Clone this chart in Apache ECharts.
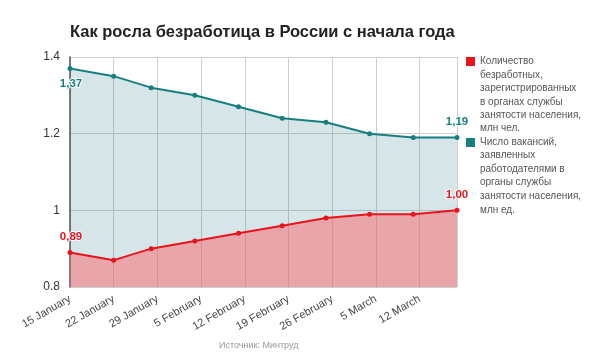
<!DOCTYPE html>
<html><head><meta charset="utf-8">
<script src="https://cdn.jsdelivr.net/npm/echarts@6/dist/echarts.min.js"></script>
<style>html,body{margin:0;padding:0;background:#fff}#c{width:600px;height:357px}</style>
</head><body><div id="c"></div>
<script>
var title = 'Как росла безработица в России с начала года';
var source = 'Источник: Минтруд';
var startDate = '2015-01-15';
var dates = ['2015-01-15','2015-01-22','2015-01-28','2015-02-04','2015-02-11','2015-02-18','2015-02-25','2015-03-04','2015-03-11','2015-03-18'];
var tickLabels = ['15 January','22 January','29 January','5 February','12 February','19 February','26 February','5 March','12 March'];
var unemployed = [0.89,0.87,0.90,0.92,0.94,0.96,0.98,0.99,0.99,1.00];
var vacancies = [1.37,1.35,1.32,1.30,1.27,1.24,1.23,1.20,1.19,1.19];
var yTicks = ['0.8','1','1.2','1.4'];
var legendNames = [
  'Количество\nбезработных,\nзарегистрированных\nв органах службы\nзанятости населения,\nмлн чел.',
  'Число вакансий,\nзаявленных\nработодателями в\nорганы службы\nзанятости населения,\nмлн ед.'
];

var DAY = 86400000;
var t0 = Date.parse(startDate);
function dayOf(s){ return Math.round((Date.parse(s) - t0) / DAY); }
var lastDay = dayOf(dates[dates.length-1]);
function fmt(v){ return v.toFixed(2).replace('.', ','); }
var TEAL = '#17807f', RED = '#e8141c';
function pts(vals, color){
  return vals.map(function(v,i){
    var item = {value:[dayOf(dates[i]), v]};
    if (i === 0 || i === vals.length-1) {
      item.label = {show:true, formatter: fmt(v), color: color, fontWeight:'bold', fontSize:11.5,
        fontFamily:'Liberation Sans, Arial, sans-serif',
        position: (i===0 && color===TEAL) ? 'bottom' : 'top', distance: 7,
        offset: i===0 ? [1,0] : [0,0],
        textBorderColor:'#fff', textBorderWidth:2};
    }
    return item;
  });
}
var chart = echarts.init(document.getElementById('c'), null, {renderer:'canvas'});
chart.setOption({
  animation:false,
  backgroundColor:'#fff',
  textStyle:{fontFamily:'Liberation Sans, Arial, sans-serif'},
  title:{text:title, left:65, top:19, textStyle:{fontSize:16.5, fontWeight:'bold', color:'#222', fontFamily:'Liberation Sans, Arial, sans-serif'}},
  grid:{left:70, right:143, top:57, bottom:70},
  xAxis:{type:'value', min:0, max:lastDay, interval:7,
    axisLine:{show:false}, axisTick:{show:false},
    splitLine:{show:true, lineStyle:{color:'#cfcfcf', width:1}},
    axisLabel:{rotate:30, color:'#444', fontSize:11, margin:11, showMaxLabel:false,
      formatter:function(v){ return (v % 7 === 0 && tickLabels[v/7]) ? tickLabels[v/7] : ''; }}},
  yAxis:{type:'value', min:0.8, max:1.4, interval:0.2,
    axisLine:{show:true, lineStyle:{color:'#555', width:1.5}}, axisTick:{show:false},
    splitLine:{show:true, lineStyle:{color:'#cfcfcf', width:1}},
    axisLabel:{color:'#333', fontSize:12, margin:10,
      formatter:function(v){ return yTicks[Math.round((v-0.8)/0.2)]; }}},
  series:[
    {name:legendNames[1], type:'line', data:pts(vacancies, TEAL), symbol:'circle', symbolSize:5,
     itemStyle:{color:TEAL}, lineStyle:{color:TEAL, width:2},
     areaStyle:{color:'rgba(20,110,130,0.18)', opacity:1}, z:2},
    {name:legendNames[0], type:'line', data:pts(unemployed, RED), symbol:'circle', symbolSize:5,
     itemStyle:{color:RED}, lineStyle:{color:RED, width:2},
     areaStyle:{color:'rgba(253,103,108,0.5)', opacity:1}, z:3}
  ],
  graphic:[
    {type:'rect', left:466, top:57, shape:{width:9, height:9}, style:{fill:RED}},
    {type:'text', left:480, top:55, style:{text:legendNames[0], fill:'#555', font:'10px Liberation Sans, Arial, sans-serif', lineHeight:13.4}},
    {type:'rect', left:466, top:138, shape:{width:9, height:9}, style:{fill:TEAL}},
    {type:'text', left:480, top:135, style:{text:legendNames[1], fill:'#555', font:'10px Liberation Sans, Arial, sans-serif', lineHeight:13.6}},
    {type:'text', left:219, top:341, style:{text:source, fill:'#999', font:'9px Liberation Sans, Arial, sans-serif'}}
  ]
});
</script></body></html>
